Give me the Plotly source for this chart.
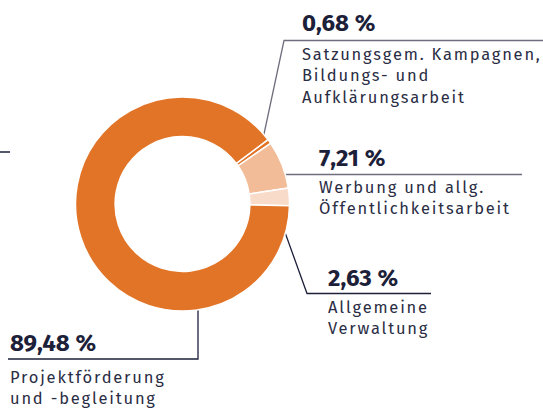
import plotly.graph_objects as go

# slice data, clockwise from the top-right
shares = [0.68, 7.21, 2.63, 89.48]
names = [
    "Satzungsgem. Kampagnen,<br>Bildungs- und<br>Aufklärungsarbeit",
    "Werbung und allg.<br>Öffentlichkeitsarbeit",
    "Allgemeine<br>Verwaltung",
    "Projektförderung<br>und -begleitung",
]
pct_labels = ["0,68 %", "7,21 %", "2,63 %", "89,48 %"]
colors = ["#E27427", "#F2BC98", "#F9DBCA", "#E27427"]

W, H = 543, 410
NAVY = "#1C2039"
FONT = "Fira Sans, Noto Sans, sans-serif"

fig = go.Figure()
fig.add_trace(
    go.Pie(
        values=shares,
        labels=pct_labels,
        marker=dict(colors=colors, line=dict(color="white", width=1.5)),
        hole=0.63,
        sort=False,
        direction="clockwise",
        rotation=53,
        textinfo="none",
        hoverinfo="label",
        showlegend=False,
        domain=dict(x=[75.5 / W, 289.5 / W], y=[1 - 311 / H, 1 - 97 / H]),
    )
)

# leader lines: (dot, bend points..., end) in pixel coords
leaders = [
    [(261, 148), (284, 40.5), (543, 40.5)],
    [(272, 174.5), (522, 174.5)],
    [(273, 199), (307, 293.5), (431, 293.5)],
    [(198, 292), (198, 359), (8, 359)],
]
line_colors = ["#6E6E7E", "#6E6E7E", NAVY, NAVY]

for pts, lc in zip(leaders, line_colors):
    fig.add_trace(
        go.Scatter(
            x=[p[0] for p in pts],
            y=[p[1] for p in pts],
            mode="lines",
            line=dict(color=lc, width=1.3),
            hoverinfo="skip",
            showlegend=False,
        )
    )

fig.add_trace(
    go.Scatter(
        x=[p[0][0] for p in leaders],
        y=[p[0][1] for p in leaders],
        mode="markers",
        marker=dict(color=NAVY, size=9),
        hoverinfo="skip",
        showlegend=False,
    )
)

# stray tick at the left edge
fig.add_shape(type="line", x0=0, x1=10, y0=152, y1=152, line=dict(color=NAVY, width=1.5))

# text positions: (x, percent top, label top)
text_pos = [(300, 6.5, 43), (317, 141.5, 176), (326, 261.5, 296), (8, 326.5, 366)]

for (x, yp, yl), pct, name in zip(text_pos, pct_labels, names):
    fig.add_annotation(
        x=x, y=yp, text=f"<b>{pct}</b>", showarrow=False,
        xanchor="left", yanchor="top",
        font=dict(family=FONT, size=24, color=NAVY),
    )
    fig.add_annotation(
        x=x, y=yl, text=name, showarrow=False, align="left",
        xanchor="left", yanchor="top",
        font=dict(family=FONT, size=16.5, color="#2A2D44"),
    )

fig.update_layout(
    width=W,
    height=H,
    margin=dict(l=0, r=0, t=0, b=0),
    paper_bgcolor="white",
    plot_bgcolor="rgba(0,0,0,0)",
    xaxis=dict(range=[0, W], visible=False, fixedrange=True),
    yaxis=dict(range=[H, 0], visible=False, fixedrange=True),
)

# no page margin; widen the label lettering a little like the original
post = """
document.body.style.margin = '0';
document.querySelectorAll('.annotation-text').forEach(function (t) {
  if (t.textContent.indexOf('%') < 0) { t.style.letterSpacing = '1.8px'; }
});
"""

fig.write_html("out.html", post_script=post, config={"displayModeBar": False})
